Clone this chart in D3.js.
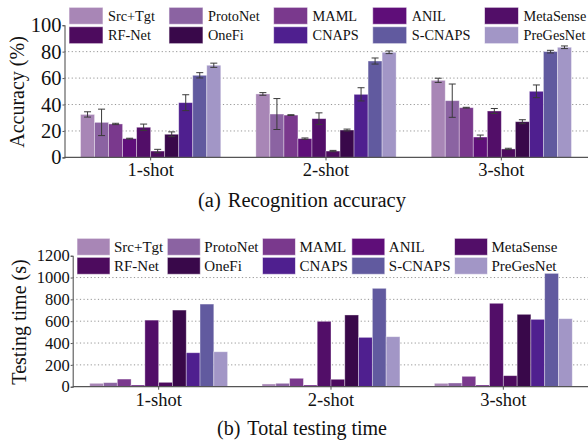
<!DOCTYPE html>
<html><head><meta charset="utf-8">
<script src="https://cdn.jsdelivr.net/npm/d3@7"></script>
<style>
html,body{margin:0;padding:0;background:#fff;}
svg{display:block;}
svg text{font-family:"Liberation Serif","Times New Roman",Times,serif !important;}
</style></head>
<body><svg id="c" width="588" height="443"></svg>
<script>
const methods = ["Src+Tgt","ProtoNet","MAML","ANIL","MetaSense","RF-Net","OneFi","CNAPS","S-CNAPS","PreGesNet"];
const colors  = ["#a886b6","#8b63a2","#7a398d","#5f0e79","#520e68","#4d0b5e","#39084a","#4f1f8f","#615a9f","#a296c6"];
const shots = ["1-shot","2-shot","3-shot"];
// accuracy (%) per method: [1-shot, 2-shot, 3-shot]
const accMean = [
  [32.5,48.0,58.3],[26.5,32.8,42.9],[25.3,32.0,37.6],[14.2,14.2,15.4],[22.8,29.3,35.1],
  [4.8,4.8,6.4],[17.5,20.7,27.0],[41.4,47.7,50.0],[62.1,72.9,80.0],[69.7,79.5,83.3]];
const accErr = [
  [2.0,1.0,1.6],[10.0,11.7,12.6],[0.5,0.3,0.3],[0.3,0.5,1.5],[2.4,4.4,1.9],
  [1.3,0.5,0.5],[1.8,0.7,1.5],[6.0,5.0,4.8],[2.0,2.3,1.0],[1.6,1.0,1.0]];
// total testing time (s)
const timeVal = [
  [31,25,31],[37,31,34],[70,77,95],[15,15,15],[610,599,764],
  [40,68,101],[702,657,663],[311,452,617],[757,901,1038],[320,458,623]];
const accTicks = [0,20,40,60,80,100];
const timeTicks = [0,200,400,600,800,1000,1200];

const svg = d3.select("#c");

function panel(cfg){
  const g = svg.append("g");
  const x0 = d3.scaleBand().domain(shots).range([cfg.xl, cfg.xr]).paddingInner(0.2).paddingOuter(0.1);
  const x1 = d3.scaleBand().domain(d3.range(methods.length)).range([0, x0.bandwidth()]);
  const y = d3.scaleLinear().domain([0, cfg.ymax]).range([cfg.y0, cfg.ytop]);
  // grid
  g.append("g").selectAll("line").data(cfg.ticks.filter(t => t > 0 && t < cfg.ymax)).join("line")
    .attr("x1", cfg.ax).attr("x2", 588).attr("y1", d => y(d)).attr("y2", d => y(d))
    .attr("stroke", "#8a8a8a").attr("stroke-width", 0.9).attr("stroke-dasharray", "1.2,2.4");
  // bars
  const rows = [];
  methods.forEach((m, i) => shots.forEach((s, j) => rows.push({i, s, v: cfg.vals[i][j], e: cfg.err ? cfg.err[i][j] : null})));
  g.append("g").selectAll("rect").data(rows).join("rect")
    .attr("x", d => x0(d.s) + x1(d.i)).attr("width", x1.bandwidth())
    .attr("y", d => y(d.v)).attr("height", d => y(0) - y(d.v))
    .attr("fill", d => colors[d.i]).attr("stroke", "rgba(255,255,255,0.45)").attr("stroke-width", 0.8);
  if (cfg.err) {
    const eg = g.append("g").attr("stroke", "#3a3a3a").attr("stroke-width", 1);
    rows.forEach(d => {
      const cx = x0(d.s) + x1(d.i) + x1.bandwidth() / 2;
      const a = y(d.v + d.e), b = y(d.v - d.e);
      eg.append("line").attr("x1", cx).attr("x2", cx).attr("y1", a).attr("y2", b);
      eg.append("line").attr("x1", cx - 3.5).attr("x2", cx + 3.5).attr("y1", a).attr("y2", a);
      eg.append("line").attr("x1", cx - 3.5).attr("x2", cx + 3.5).attr("y1", b).attr("y2", b);
    });
  }
  // axes
  const ya = g.append("g").attr("transform", `translate(${cfg.ax},0)`)
    .call(d3.axisLeft(y).tickValues(cfg.ticks).tickFormat(d3.format("d")).tickSize(2).tickPadding(1));
  ya.attr("font-family", null);
  ya.select(".domain").attr("stroke", "#555").attr("stroke-width", 1.1);
  ya.selectAll(".tick line").attr("stroke", "#555");
  ya.selectAll("text").attr("font-size", cfg.ytf).attr("fill", "#111");
  g.append("line").attr("x1", cfg.ax).attr("x2", 588).attr("y1", y(0)).attr("y2", y(0))
    .attr("stroke", "#555").attr("stroke-width", 1.2);
  const xa = g.append("g").attr("transform", `translate(${(x0.bandwidth()/2)},${y(0)})`);
  shots.forEach(s => {
    xa.append("line").attr("x1", x0(s)).attr("x2", x0(s)).attr("y1", 0).attr("y2", 3).attr("stroke", "#555");
    xa.append("text").attr("x", x0(s)).attr("y", cfg.xly).attr("text-anchor", "middle")
      .attr("font-size", 18.5).attr("fill", "#111").text(s);
  });
  // y label
  g.append("text").attr("transform", `translate(${cfg.ylx},${cfg.yly}) rotate(-90)`)
    .attr("text-anchor", "middle").attr("font-size", 20).attr("fill", "#111").text(cfg.ylabel);
  // caption
  const cap = g.append("text").attr("x", 302).attr("y", cfg.capy).attr("text-anchor", "middle")
    .attr("font-size", cfg.capf).attr("fill", "#111");
  cap.append("tspan").text(cfg.capA);
  cap.append("tspan").attr("dx", 7).text(cfg.capB);
  // legend
  const lg = g.append("g");
  const cols = 5;
  let cx = cfg.lx;
  for (let c = 0; c < cols; c++) {
    let maxW = 0;
    for (let r = 0; r < 2; r++) {
      const i = r * cols + c;
      const top = cfg.ly[r];
      lg.append("rect").attr("x", cx).attr("y", top).attr("width", cfg.sw).attr("height", cfg.sh)
        .attr("fill", colors[i]).attr("stroke", "rgba(255,255,255,0.6)").attr("stroke-width", 1);
      const t = lg.append("text").attr("x", cx + cfg.sw + cfg.tg).attr("y", top + cfg.sh / 2 + cfg.lf * 0.34)
        .attr("font-size", cfg.lf).attr("fill", "#111").text(methods[i]);
      maxW = Math.max(maxW, t.node().getComputedTextLength());
    }
    cx += cfg.sw + cfg.tg + maxW + cfg.cs;
  }
}

panel({xl: 63, xr: 589, ax: 64.5, y0: 157.4, ytop: 25.2, ymax: 100, ticks: accTicks, vals: accMean, err: accErr,
  ytf: 20.5, xly: 19, ylx: 24, yly: 92, ylabel: "Accuracy (%)", capy: 207, capf: 20.5,
  capA: "(a)", capB: "Recognition accuracy",
  lx: 69, ly: [7.3, 26.7], sw: 34, sh: 17, tg: 5, cs: 14, lf: 14.3});
panel({xl: 72.5, xr: 589.5, ax: 72.7, y0: 386.7, ytop: 255.7, ymax: 1200, ticks: timeTicks, vals: timeVal, err: null,
  ytf: 16.5, xly: 19, ylx: 26, yly: 322, ylabel: "Testing time (s)", capy: 435, capf: 20,
  capA: "(b)", capB: "Total testing time",
  lx: 77, ly: [238.3, 257.3], sw: 33, sh: 17, tg: 4, cs: 4, lf: 15});
</script></body></html>
